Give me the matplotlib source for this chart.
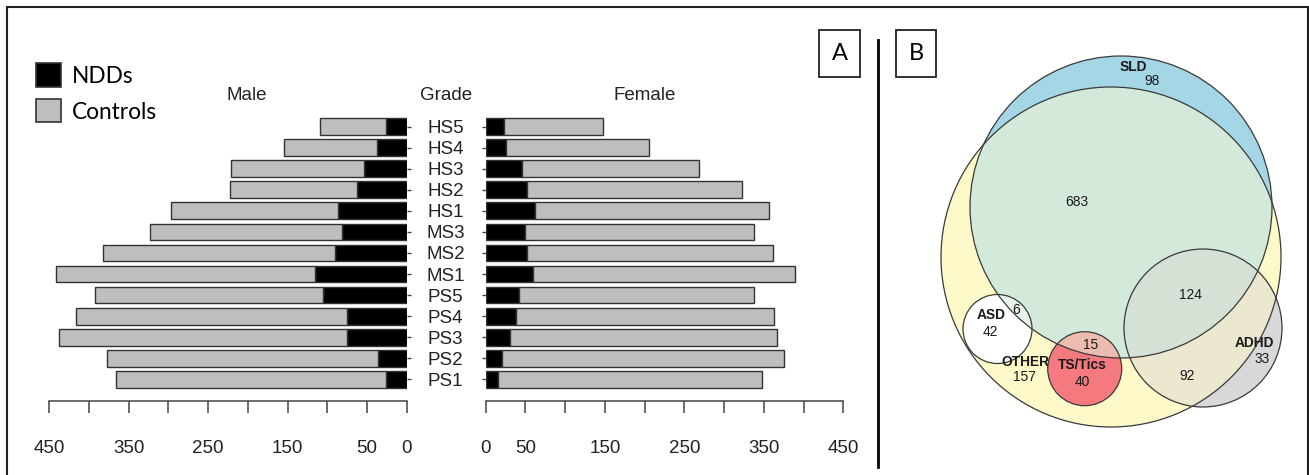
#!/usr/bin/env python3
"""
Population pyramid of NDDs vs controls by grade (A) and overlap of diagnoses (B).
"""

import matplotlib
matplotlib.use("Agg")
import matplotlib.pyplot as plt
from matplotlib.patches import Circle, Rectangle

# ---- data -----------------------------------------------------------------
grades = ["PS1", "PS2", "PS3", "PS4", "PS5", "MS1", "MS2", "MS3",
          "HS1", "HS2", "HS3", "HS4", "HS5"]
male_ndd = [26, 36, 75, 75, 106, 115, 90, 81, 86, 62, 54, 38, 26]
male_ctrl = [340, 341, 363, 342, 286, 327, 293, 242, 211, 161, 167, 117, 83]
female_ndd = [15, 20, 30, 38, 42, 60, 52, 49, 62, 52, 46, 25, 23]
female_ctrl = [333, 355, 337, 325, 295, 329, 309, 288, 294, 271, 222, 181, 125]

x_ticks = list(range(0, 451, 50))
x_ticklabels = ["0", "50", "", "150", "", "250", "", "350", "", "450"]

# Venn region counts
venn_sld_only = 98
venn_sld_other = 683
venn_sld_other_adhd = 124
venn_asd = 42
venn_asd_sld = 6
venn_other = 157
venn_ts = 40
venn_ts_sld = 15
venn_other_adhd = 92
venn_adhd = 33

W, H = 1309, 475
DPI = 100
SANS = "Liberation Sans"
CAL = "Lato"
NDD_COL = "black"
CTRL_COL = "#bebebe"
EDGE = "#333333"


def px_axes(fig, x0, y0, x1, y1, **kw):
    return fig.add_axes([x0 / W, 1 - y1 / H, (x1 - x0) / W, (y1 - y0) / H], **kw)


fig = plt.figure(figsize=(W / DPI, H / DPI), dpi=DPI)

ypos = list(range(len(grades)))
y_lo, y_hi = -1.02, 12.5

# ---- male (left) ----------------------------------------------------------
axm = px_axes(fig, 49.3, 116.2, 406.7, 400.7)
axm.barh(ypos, male_ndd, height=0.8, color=NDD_COL, edgecolor=EDGE, linewidth=1)
axm.barh(ypos, male_ctrl, left=male_ndd, height=0.8, color=CTRL_COL,
         edgecolor=EDGE, linewidth=1)
axm.set_xlim(450, 0)

# ---- female (right) -------------------------------------------------------
axf = px_axes(fig, 485.7, 116.2, 843.3, 400.7)
axf.barh(ypos, female_ndd, height=0.8, color=NDD_COL, edgecolor=EDGE, linewidth=1)
axf.barh(ypos, female_ctrl, left=female_ndd, height=0.8, color=CTRL_COL,
         edgecolor=EDGE, linewidth=1)
axf.set_xlim(0, 450)

for ax in (axm, axf):
    ax.set_ylim(y_lo, y_hi)
    ax.set_facecolor("none")
    for s in ("top", "left", "right"):
        ax.spines[s].set_visible(False)
    ax.spines["bottom"].set_color("#444444")
    ax.spines["bottom"].set_linewidth(1.1)
    ax.set_xticks(x_ticks)
    ax.set_xticklabels(x_ticklabels, fontsize=13.5, family=SANS, color="#222222")
    ax.tick_params(axis="x", direction="out", length=8.6, width=1.1,
                   color="#444444", pad=20)

axm.yaxis.tick_right()
axm.set_yticks(ypos)
axm.set_yticklabels([])
axm.tick_params(axis="y", length=3, width=1, color="#444444")

axf.set_yticks(ypos)
axf.set_yticklabels(grades, fontsize=13.5, family=SANS, color="#222222")
axf.tick_params(axis="y", length=3, width=1, color="#444444", pad=26)
for lab in axf.get_yticklabels():
    lab.set_horizontalalignment("center")

# ---- overlay in pixel coordinates ----------------------------------------
ov = px_axes(fig, 0, 0, W, H)
ov.set_xlim(0, W)
ov.set_ylim(H, 0)
ov.axis("off")
ov.set_facecolor("none")

for txt, x in (("Male", 246.7), ("Grade", 445.8), ("Female", 644.7)):
    ov.text(x, 95, txt, ha="center", va="center", fontsize=13.5, family=SANS,
            color="#222222")

# legend
ov.add_patch(Rectangle((36, 63.3), 24.7, 24, facecolor=NDD_COL, edgecolor=EDGE, lw=1.2))
ov.add_patch(Rectangle((36, 98.7), 24.7, 23.6, facecolor=CTRL_COL, edgecolor=EDGE, lw=1.2))
ov.text(71.7, 76.5, "NDDs", ha="left", va="center", fontsize=16.3, family=CAL)
ov.text(71.7, 112.5, "Controls", ha="left", va="center", fontsize=16.3, family=CAL)

# panel boxes
ov.add_patch(Rectangle((819.3, 30), 41, 47.3, facecolor="white", edgecolor="#222222", lw=1.3))
ov.add_patch(Rectangle((896.3, 30), 39.7, 47.3, facecolor="white", edgecolor="#222222", lw=1.3))
ov.text(839.8, 54, "A", ha="center", va="center", fontsize=17, family=CAL)
ov.text(916.2, 54, "B", ha="center", va="center", fontsize=17, family=CAL)

# separator and border
ov.plot([878.3, 878.3], [40, 467.3], color="black", lw=2)
ov.plot([7.3, 7.3, 1307.7, 1307.7], [H, 7.3, 7.3, H], color="#222222", lw=1.5,
        solid_joinstyle="miter")

# ---- venn (B) -------------------------------------------------------------
c_other = (1111, 257, 170)
c_sld = (1121, 207, 151)
c_adhd = (1203, 328, 79)
c_asd = (997.5, 329, 34.5)
c_ts = (1084.7, 368.7, 37)


def circ(c, **kw):
    return Circle((c[0], c[1]), c[2], **kw)


ov.add_patch(circ(c_other, facecolor="#fef9c8", edgecolor="none"))
ov.add_patch(circ(c_sld, facecolor="#a4d6e6", edgecolor="none"))
p = ov.add_patch(circ(c_sld, facecolor="#d3e9d9", edgecolor="none"))
p.set_clip_path(circ(c_other, transform=ov.transData))

ov.add_patch(circ(c_adhd, facecolor="#d8d8d8", edgecolor="none"))
p = ov.add_patch(circ(c_adhd, facecolor="#ece7cf", edgecolor="none"))
p.set_clip_path(circ(c_other, transform=ov.transData))
p = ov.add_patch(circ(c_adhd, facecolor="#d6e1d6", edgecolor="none"))
p.set_clip_path(circ(c_sld, transform=ov.transData))

ov.add_patch(circ(c_asd, facecolor="white", edgecolor="none"))
p = ov.add_patch(circ(c_asd, facecolor="#e8f3ea", edgecolor="none"))
p.set_clip_path(circ(c_sld, transform=ov.transData))

ov.add_patch(circ(c_ts, facecolor="#f47a80", edgecolor="none"))
p = ov.add_patch(circ(c_ts, facecolor="#ecbcb1", edgecolor="none"))
p.set_clip_path(circ(c_sld, transform=ov.transData))

for c in (c_other, c_sld, c_adhd, c_asd, c_ts):
    ov.add_patch(circ(c, facecolor="none", edgecolor="#3a3a3a", lw=0.9))

vfs = 9.9
vkw = dict(ha="center", va="center", fontsize=vfs, family=SANS, color="#1a1a1a")
bkw = dict(vkw, fontweight="bold")
ov.text(1133, 66.7, "SLD", **bkw)
ov.text(1151.7, 80.7, str(venn_sld_only), **vkw)
ov.text(1076.7, 201.7, str(venn_sld_other), **vkw)
ov.text(1190, 295, str(venn_sld_other_adhd), **vkw)
ov.text(990.7, 315.3, "ASD", **bkw)
ov.text(990.7, 331.7, str(venn_asd), **vkw)
ov.text(1016, 310, str(venn_asd_sld), **vkw)
ov.text(1090.7, 345, str(venn_ts_sld), **vkw)
ov.text(1025, 361.7, "OTHER", **bkw)
ov.text(1025, 377.3, str(venn_other), **vkw)
ov.text(1082.7, 365, "TS/Tics", **bkw)
ov.text(1082.7, 381.7, str(venn_ts), **vkw)
ov.text(1186.7, 375.7, str(venn_other_adhd), **vkw)
ov.text(1254.3, 342.7, "ADHD", **bkw)
ov.text(1261.7, 359, str(venn_adhd), **vkw)

fig.savefig("out.png", dpi=DPI)
plt.close(fig)
